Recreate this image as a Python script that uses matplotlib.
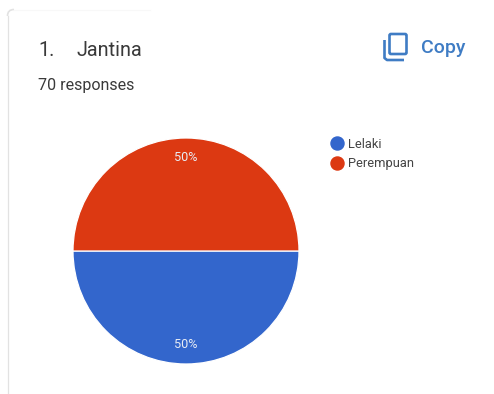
import matplotlib
matplotlib.use("Agg")
import matplotlib.pyplot as plt
from matplotlib.lines import Line2D
from matplotlib.patches import FancyBboxPatch, PathPatch
from matplotlib.path import Path

categories = ["Lelaki", "Perempuan"]
shares = [50, 50]
colors = ["#3366cc", "#dc3912"]
question_number = "1."
question_title = "Jantina"
response_note = "70 responses"
copy_label = "Copy"

W, H = 494, 394
plt.rcParams["font.family"] = ["Roboto", "DejaVu Sans"]
fig = plt.figure(figsize=(W / 100, H / 100), dpi=100, facecolor="white")

# Pixel-space layer for the card outline, header text and icon
bg = fig.add_axes([0, 0, 1, 1])
bg.set_xlim(0, W)
bg.set_ylim(H, 0)
bg.axis("off")

# Card edge: clear on the left, barely there along the top
bg.add_line(Line2D([7.5, 7.5], [16, 394], color="#e2e2e2", lw=0.9))
bg.add_patch(PathPatch(Path([(7.5, 16), (7.5, 9.5), (14, 9.5)],
                            [Path.MOVETO, Path.CURVE3, Path.CURVE3]),
                       fill=False, ec="#e2e2e2", lw=1.2))
bg.add_line(Line2D([14, 150], [9.5, 9.5], color="#f8f8f8", lw=0.8))

ink = "#3a3a3a"
bg.text(38, 56, question_number, fontsize=14.3, color=ink, va="baseline")
bg.text(76, 56, question_title, fontsize=14.3, color=ink, va="baseline")
bg.text(38, 90, response_note, fontsize=11.5, color=ink, va="baseline")

# Copy button: two offset page outlines plus its label
blue = "#3f7cc4"
bg.add_patch(FancyBboxPatch((389.5, 34), 17, 20, boxstyle="round,pad=0,rounding_size=1.5",
                            fill=False, ec=blue, lw=1.9))
bg.add_line(Line2D([384.5, 384.5, 387, 404], [40, 58, 60, 60], color=blue, lw=1.9,
                   solid_capstyle="butt", solid_joinstyle="round"))
bg.text(421, 52.5, copy_label, fontsize=14, color=blue, fontweight="medium", va="baseline")

# Pie, centred at (186, 251) with a 113 px radius
cx, cy, r = 186, 251, 113
ax = fig.add_axes([(cx - r) / W, 1 - (cy + r) / H, 2 * r / W, 2 * r / H])
wedges, _, pct = ax.pie(shares, colors=colors, startangle=180, radius=1,
                        autopct="%d%%", pctdistance=0.83,
                        wedgeprops=dict(edgecolor="white", linewidth=0.9),
                        textprops=dict(color="#e8ecf4", fontsize=9.1))
ax.set_xlim(-1, 1)
ax.set_ylim(-1, 1)
ax.set_aspect("equal")
for w in wedges:
    w.set_clip_on(False)

handles = [Line2D([], [], marker="o", ls="", ms=9.4, mfc=c, mec=c) for c in colors]
fig.legend(handles, categories, loc="upper left",
           bbox_to_anchor=(327 / W, 1 - 137.5 / H), frameon=False,
           fontsize=9.3, labelcolor="#444444", handletextpad=0.1,
           labelspacing=0.54, borderpad=0, borderaxespad=0, handlelength=1.55)

fig.savefig("out.png", dpi=100, facecolor="white")
